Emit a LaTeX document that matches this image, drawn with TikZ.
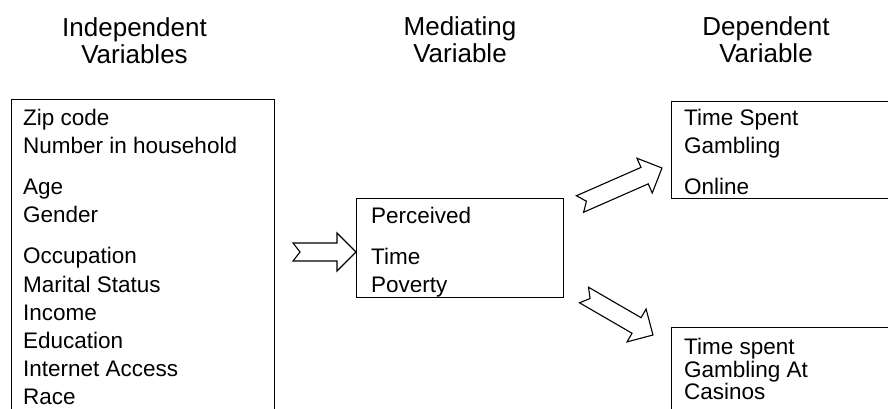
\documentclass[tikz,border=0pt]{standalone}
\usepackage{fontspec}
\setmainfont{Liberation Sans}
\usetikzlibrary{calc,positioning}

\begin{document}
\begin{tikzpicture}[
    x=1pt, y=-1pt,
    box/.style={draw, line width=0.8pt, anchor=north west, inner sep=0pt},
    list/.style={align=left, inner sep=0pt, font=\fontsize{22.5}{28.2}\selectfont},
    head/.style={anchor=north, align=center, inner sep=0pt, font=\fontsize{26}{27.5}\selectfont},
    fatarrow/.style={draw, line width=1.1pt, line join=miter, to path={
        let \p1=(\tikztostart), \p2=(\tikztotarget),
            \n1={atan2(\y2-\y1,\x2-\x1)}, \n2={veclen(\x2-\x1,\y2-\y1)} in
        ([shift={(\p1)},rotate=\n1]0pt,9pt) -- ([shift={(\p1)},rotate=\n1]7pt,0pt)
        -- ([shift={(\p1)},rotate=\n1]0pt,-9pt) -- ([shift={(\p1)},rotate=\n1]\n2-19pt,-9pt)
        -- ([shift={(\p1)},rotate=\n1]\n2-19pt,-19pt) -- ([shift={(\p1)},rotate=\n1]\n2,0pt)
        -- ([shift={(\p1)},rotate=\n1]\n2-19pt,19pt) -- ([shift={(\p1)},rotate=\n1]\n2-19pt,9pt)
        -- cycle}}
]
    \useasboundingbox (0,0) rectangle (888,409);

    % column titles
    \node[head] (indhead) at (134.5,17) {Independent\\Variables};
    \node[head] (medhead) at (460,16) {Mediating\\Variable};
    \node[head] (dephead) at (766,16) {Dependent\\Variable};

    % boxes
    \node[box, minimum width=263pt, minimum height=340pt] (indbox) at (11,99) {};
    \node[box, minimum width=207pt, minimum height=99pt] (medbox) at (356,198) {};
    \node[box, minimum width=260pt, minimum height=97pt] (onlinebox) at (671,101) {};
    \node[box, minimum width=260pt, minimum height=120pt] (casinobox) at (671,327) {};

    \node[list, below right=9.5pt and 12pt of indbox.north west] (indlist)
        {Zip code\\Number in household\\[13pt]Age\\Gender\\[13pt]Occupation\\Marital Status\\Income\\Education\\Internet Access\\Race};
    \node[list, below right=9pt and 15pt of medbox.north west] (medlist)
        {Perceived\\[13pt]Time\\Poverty};
    \node[list, below right=8pt and 13pt of onlinebox.north west] (onlinelist)
        {Time Spent\\Gambling\\[13pt]Online};
    \node[list, font=\fontsize{22.5}{22.5}\selectfont, below right=11pt and 13pt of casinobox.north west] (casinolist)
        {Time spent\\Gambling At\\Casinos};

    % arrows
    \coordinate (a1-tail) at (293,252);
    \coordinate (a1-tip) at (medbox.west |- a1-tail);
    \coordinate (a2-tail) at (580,204);
    \coordinate (a2-tip) at (662,168);
    \coordinate (a3-tail) at (584,295);
    \coordinate (a3-tip) at (653,335);

    \draw[fatarrow] (a1-tail) to (a1-tip);
    \draw[fatarrow] (a2-tail) to (a2-tip);
    \draw[fatarrow] (a3-tail) to (a3-tip);
\end{tikzpicture}
\end{document}
